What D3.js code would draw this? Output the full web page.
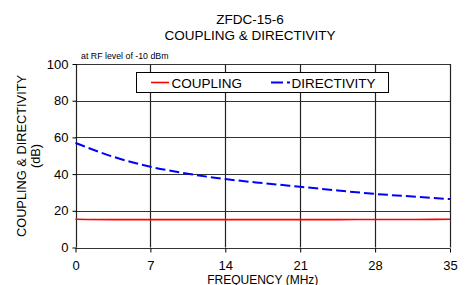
<!DOCTYPE html>
<html>
<head>
<meta charset="utf-8">
<script src="https://cdn.jsdelivr.net/npm/d3@7"></script>
<style>
  body { margin: 0; background: #fff; }
  text { font-family: "Liberation Sans", Arial, sans-serif; fill: #000; }
</style>
</head>
<body>
<svg id="chart" width="467" height="285"></svg>
<script>
// Data
const freq = [0, 3.5, 7, 10.5, 14, 17.5, 21, 24.5, 28, 31.5, 35];
const coupling = [15.4, 15.2, 15.2, 15.2, 15.2, 15.2, 15.2, 15.2, 15.3, 15.3, 15.4];
const directivity = [57.0, 49.5, 44.0, 40.2, 37.3, 35.1, 33.1, 31.1, 29.2, 27.8, 26.4];
const xTicks = [0, 7, 14, 21, 28, 35];
const yTicks = [0, 20, 40, 60, 80, 100];

const svg = d3.select("#chart");
const margin = { left: 75.5, right: 17, top: 64, bottom: 37.5 };
const W = 467, H = 285;

const x = d3.scaleLinear().domain([0, 35]).range([margin.left, W - margin.right]);
const y = d3.scaleLinear().domain([0, 100]).range([H - margin.bottom, margin.top]);

// title
svg.append("text").attr("x", 250).attr("y", 24).attr("text-anchor", "middle")
    .attr("font-size", 13.5).text("ZFDC-15-6");
svg.append("text").attr("x", 250).attr("y", 39.5).attr("text-anchor", "middle")
    .attr("font-size", 13.5).text("COUPLING & DIRECTIVITY");
svg.append("text").attr("x", 81).attr("y", 59).attr("font-size", 8.8)
    .text("at RF level of -10 dBm");

// grid
svg.append("g").selectAll("line").data(yTicks).enter().append("line")
    .attr("x1", x(0)).attr("x2", x(35))
    .attr("y1", d => Math.round(y(d)) + 0.5).attr("y2", d => Math.round(y(d)) + 0.5)
    .attr("stroke", "#333").attr("stroke-width", 1.2);
svg.append("g").selectAll("line").data(xTicks).enter().append("line")
    .attr("y1", y(0)).attr("y2", y(100))
    .attr("x1", d => Math.round(x(d)) + 0.5).attr("x2", d => Math.round(x(d)) + 0.5)
    .attr("stroke", "#222").attr("stroke-width", 1.2);

// axes
const yAxis = svg.append("g").attr("transform", `translate(${Math.round(x(0)) + 0.5},0)`)
    .call(d3.axisLeft(y).tickValues(yTicks).tickSize(4).tickPadding(4));
const xAxis = svg.append("g").attr("transform", `translate(0,${Math.round(y(0)) + 0.5})`)
    .call(d3.axisBottom(x).tickValues(xTicks).tickSize(4).tickPadding(8));
[xAxis, yAxis].forEach(a => {
    a.select(".domain").remove();
    a.selectAll(".tick line").attr("stroke", "#000");
    a.selectAll("text").attr("font-size", 13).attr("font-family", "Liberation Sans, Arial, sans-serif");
});

// axis titles
svg.append("text").attr("x", x(17.5)).attr("y", 283.5).attr("text-anchor", "middle")
    .attr("font-size", 12).text("FREQUENCY (MHz)");
svg.append("text").attr("transform", "translate(26,156) rotate(-90)")
    .attr("text-anchor", "middle").attr("font-size", 12.8).text("COUPLING & DIRECTIVITY");
svg.append("text").attr("transform", "translate(40,156) rotate(-90)")
    .attr("text-anchor", "middle").attr("font-size", 12.8).text("(dB)");

// series
const line = d3.line().x((d, i) => x(freq[i])).y(d => y(d)).curve(d3.curveMonotoneX);
svg.append("path").datum(coupling).attr("d", line)
    .attr("fill", "none").attr("stroke", "#ff0000").attr("stroke-width", 1.6);
svg.append("path").datum(directivity).attr("d", line)
    .attr("fill", "none").attr("stroke", "#0000ff").attr("stroke-width", 2)
    .attr("stroke-dasharray", "10,4");

// legend
const lg = svg.append("g");
lg.append("rect").attr("x", 136.5).attr("y", 72.5).attr("width", 252).attr("height", 20)
    .attr("fill", "#fff").attr("stroke", "#000").attr("stroke-width", 1);
lg.append("line").attr("x1", 151).attr("x2", 169).attr("y1", 82.5).attr("y2", 82.5)
    .attr("stroke", "#ff0000").attr("stroke-width", 1.6);
lg.append("text").attr("x", 171.5).attr("y", 88.3).attr("font-size", 13.5).text("COUPLING");
lg.append("line").attr("x1", 271).attr("x2", 290).attr("y1", 82.5).attr("y2", 82.5)
    .attr("stroke", "#0000ff").attr("stroke-width", 2).attr("stroke-dasharray", "12,4");
lg.append("text").attr("x", 291.5).attr("y", 88.3).attr("font-size", 13.5).text("DIRECTIVITY");
</script>
</body>
</html>
